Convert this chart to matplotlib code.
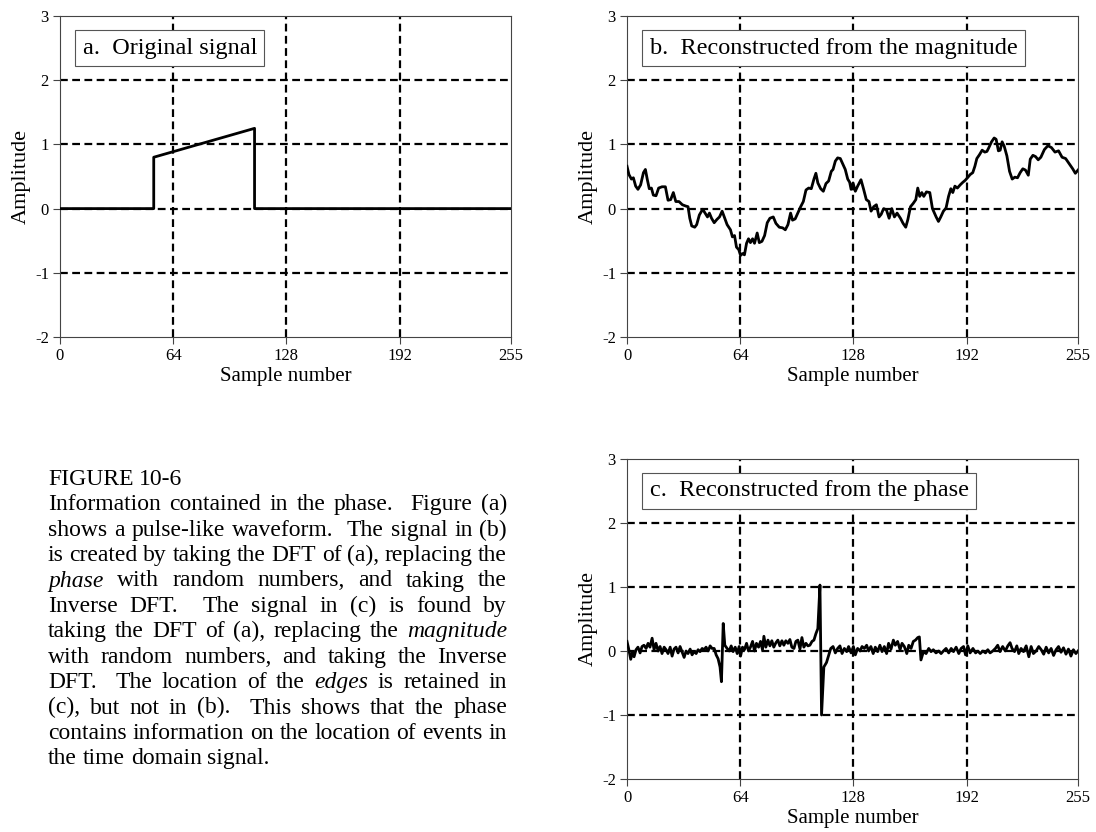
import re
import matplotlib
matplotlib.use("Agg")
import matplotlib.pyplot as plt
from matplotlib.transforms import IdentityTransform

SERIF = ["Liberation Serif", "DejaVu Serif"]
plt.rcParams["font.family"] = SERIF
plt.rcParams["axes.unicode_minus"] = False

W, H = 1096, 832

# ---------- data ----------
x_ticks = [0, 64, 128, 192, 255]
y_ticks = [-2, -1, 0, 1, 2, 3]

# (a) original pulse, breakpoints (sample, amplitude)
pulse_n = [0, 53, 53, 110, 110, 255]
pulse_amp = [0.0, 0.0, 0.80, 1.25, 0.0, 0.0]

# (b) reconstructed from the magnitude
mag_n = [0, 1.1, 2.5, 3.6, 4.9, 6.2, 7.7, 9.3, 10.4, 11.5, 12.6, 13.8, 14.9, 16.4, 17.9,
         19.8, 21.7, 23.2, 24.7, 26.2, 27.6, 29.4, 31.3, 33.2, 34.5, 35.5, 36.6, 38.3, 39.4,
         40.9, 42.8, 43.9, 45.5, 46.6, 47.8, 49.3, 50.8, 52.3, 53.8, 55.3,
         56.6, 58.5, 59.6, 60.8, 61.9, 63.2, 64.2, 65.3, 66.4, 67.6, 68.7, 69.8, 71.0, 72.1,
         73.6, 74.8, 76.3, 77.8, 79.3, 80.8, 82.7, 84.2, 86.1, 88.0, 89.5, 91.0, 92.5, 93.6,
         95.1, 96.6, 98.2, 99.7, 101.2, 102.7, 104.2, 105.7, 106.8, 107.9, 109.5, 111.0,
         112.5, 114.0,
         115.5, 116.5, 117.8, 119.1, 120.6, 122.1, 123.4, 124.8, 125.9, 126.7, 127.8, 129.1,
         130.4, 132.3, 133.8, 135.3, 136.8, 138.0, 139.5, 141.0, 142.5, 143.7, 145.1, 146.7,
         148.2, 149.7, 151.2, 152.7, 154.6, 156.1, 157.6, 158.8, 160.3, 161.8, 163.3, 164.4,
         165.5, 166.7, 167.8, 169.3, 171.2, 172.7,
         174.8, 176.1, 177.4, 178.9, 180.4, 181.8, 183.1, 184.2, 185.4, 186.8, 188.4, 189.9,
         191.2, 192.5, 194.0, 195.5, 196.7, 197.8, 199.3, 200.8, 202.3, 203.5, 204.6, 206.1,
         207.6, 208.7, 210.0, 211.0, 212.1, 213.3, 214.8, 216.3, 217.8, 219.3, 220.8, 222.3,
         223.8, 225.3, 226.9, 228.0, 229.5, 231.0, 232.5,
         234, 236, 238, 240, 242, 244, 246, 248, 250, 252, 253.5, 255]
mag_amp = [0.66, 0.53, 0.46, 0.48, 0.35, 0.30, 0.37, 0.56, 0.61, 0.45, 0.31, 0.32, 0.21, 0.20, 0.32,
           0.34, 0.34, 0.13, 0.14, 0.25, 0.11, 0.11, 0.06, 0.04, 0.03, -0.15, -0.27, -0.29, -0.25,
           -0.10, -0.01, -0.06, -0.13, -0.07, -0.15, -0.22, -0.17, -0.13, -0.04, -0.15,
           -0.25, -0.33, -0.44, -0.42, -0.60, -0.64, -0.73, -0.70, -0.72, -0.54, -0.47, -0.53, -0.47, -0.54,
           -0.38, -0.53, -0.51, -0.42, -0.22, -0.15, -0.13, -0.23, -0.29, -0.30, -0.33, -0.25, -0.07, -0.18,
           -0.16, -0.07, 0.03, 0.11, 0.29, 0.32, 0.31, 0.46, 0.55, 0.40, 0.31, 0.27,
           0.39, 0.43,
           0.58, 0.61, 0.74, 0.79, 0.78, 0.69, 0.61, 0.46, 0.41, 0.30, 0.40, 0.27,
           0.35, 0.45, 0.30, 0.14, 0.11, -0.04, 0.03, 0.06, -0.13, -0.09, 0.00, -0.02,
           -0.15, 0.00, -0.13, -0.07, -0.15, -0.23, -0.29, -0.17, 0.03, 0.08, 0.14, 0.32,
           0.19, 0.25, 0.19, 0.26, 0.25, 0.00,
           -0.13, -0.20, -0.13, -0.04, 0.01, 0.19, 0.31, 0.25, 0.35, 0.32, 0.37, 0.41,
           0.44, 0.48, 0.53, 0.56, 0.66, 0.78, 0.84, 0.91, 0.88, 0.89, 0.95, 1.04,
           1.10, 1.08, 0.90, 0.91, 1.04, 0.97, 0.82, 0.58, 0.46, 0.49, 0.48, 0.56,
           0.62, 0.60, 0.52, 0.77, 0.83, 0.81, 0.76,
           0.80, 0.92, 0.98, 0.95, 0.88, 0.90, 0.80, 0.78, 0.70, 0.62, 0.55, 0.60]

# (c) reconstructed from the phase
phase_n = [0, 0.9, 2.1, 3.2, 4.0, 5.1, 6.2, 7.4, 8.5, 9.6, 10.8, 11.9, 13.0, 14.2, 15.3, 16.4,
           17.6, 18.7, 19.8, 21.0, 22.1, 23.2, 24.4, 25.5, 26.6, 27.7, 28.9, 30.0, 31.1, 32.3,
           33.4, 34.5, 35.7, 36.8, 37.9, 39.1, 40.2, 41.3, 42.5, 43.6, 44.7, 45.9, 47.0, 48.1,
           49.3, 50.4, 51.5, 52.6, 53.4, 54.4, 55.3,
           56.6, 57.8, 58.9, 60.0, 61.2, 62.3, 63.4, 64.2, 65.3, 66.4, 67.6, 68.7, 69.8, 71.0,
           72.1, 73.2, 74.4, 75.5, 76.6, 77.4, 78.5, 79.7, 80.8, 81.9, 83.0, 84.2, 85.3, 86.4,
           87.6, 88.7, 89.8, 91.0, 92.1, 93.2, 94.4, 95.5, 96.6, 97.8, 98.9, 100.0, 101.2, 102.3,
           103.4, 104.6, 105.7, 106.8, 107.9, 109.1, 110.0, 111.3, 112.8, 114.3,
           115.2, 116.5, 117.8, 119.1, 120.4, 121.6, 122.9, 124.2, 125.3, 126.7, 128.0, 129.1,
           130.4, 131.8, 132.9, 134.2, 135.5, 136.6, 137.9, 139.2, 140.4, 141.7, 143.0, 144.2,
           145.5, 146.8, 147.9, 149.3, 150.6, 151.7, 153.0, 154.4, 155.5, 156.8, 158.2, 159.3,
           160.6, 161.9, 163.1, 164.4, 165.3, 166.2, 167.6, 169.1, 170.6, 171.9, 173.2, 174.7,
           176.2, 177.6, 178.9, 180.4, 181.9, 183.3, 184.6, 186.1, 187.6, 188.9, 190.3, 191.4,
           192.7, 194.0, 195.6, 197.1, 198.4, 199.7, 201.2, 202.7, 204.0, 205.3, 206.8, 208.3,
           209.6, 210.9, 212.4, 213.9, 215.3, 216.6, 217.7, 219.1, 220.4, 221.5, 222.8, 224.2,
           225.7, 227.2, 228.5, 229.8, 231.3, 232.8,
           234.2, 235.6, 237.0, 238.4, 239.8, 241.2, 242.6, 244.0, 245.4, 246.8, 248.2, 249.6,
           251.0, 252.4, 253.8, 255.0]
phase_amp = [0.15, 0.04, -0.13, -0.01, -0.09, 0.02, 0.06, -0.03, 0.07, 0.09, 0.04, 0.12, 0.06, 0.20, 0.02, 0.12,
             0.00, 0.07, -0.04, 0.06, 0.02, -0.04, 0.06, -0.08, 0.03, 0.06, -0.03, 0.07, -0.01, -0.10,
             0.00, -0.04, 0.03, -0.06, -0.01, -0.04, 0.02, -0.01, 0.04, 0.02, 0.06, 0.00, 0.08, 0.04,
             0.04, -0.06, -0.12, -0.25, -0.48, 0.43, 0.09,
             0.04, 0.00, 0.08, -0.01, 0.06, -0.04, 0.07, -0.08, 0.06, 0.02, 0.12, 0.00, 0.06, 0.15,
             0.00, 0.12, 0.06, 0.15, 0.02, 0.23, 0.06, 0.17, 0.08, 0.16, 0.06, 0.13, 0.17, 0.08,
             0.16, 0.09, 0.16, 0.12, 0.18, 0.06, 0.04, 0.15, 0.17, 0.03, 0.21, 0.06, 0.12, 0.08,
             0.09, 0.15, 0.17, 0.27, 0.35, 1.03, -1.00, -0.25, -0.18, -0.04,
             0.04, 0.07, -0.03, 0.04, 0.08, -0.04, 0.04, -0.01, 0.07, -0.03, 0.07, -0.06,
             0.04, 0.00, 0.07, 0.04, 0.09, 0.00, 0.07, -0.04, 0.06, -0.01, 0.09, -0.01,
             0.07, -0.04, 0.12, 0.03, 0.17, 0.09, 0.15, 0.02, 0.12, 0.07, -0.04, 0.09,
             0.04, 0.15, 0.17, 0.21, 0.22, -0.14, -0.01, -0.04, 0.04, -0.01, 0.02, -0.03,
             0.00, -0.04, 0.00, 0.04, -0.03, 0.04, -0.01, 0.06, -0.04, 0.04, 0.07, -0.06,
             0.08, -0.03, 0.04, -0.03, 0.00, -0.04, 0.00, -0.03, 0.02, -0.03, 0.00, 0.04,
             0.09, -0.01, 0.07, 0.00, 0.08, 0.13, 0.04, -0.01, 0.08, -0.04, 0.04, -0.01,
             0.08, -0.09, 0.07, -0.04, 0.00, 0.07,
             0.02, -0.05, 0.06, -0.03, 0.04, -0.07, 0.02, 0.07, -0.02, 0.05, -0.05, 0.03,
             -0.08, 0.02, -0.04, 0.00]

caption = [
    "FIGURE 10-6",
    "Information contained in the phase.  Figure (a)",
    "shows a pulse-like waveform.  The signal in (b)",
    "is created by taking the DFT of (a), replacing the",
    "*phase* with random numbers, and taking the",
    "Inverse DFT.  The signal in (c) is found by",
    "taking the DFT of (a), replacing the *magnitude*",
    "with random numbers, and taking the Inverse",
    "DFT.  The location of the *edges* is retained in",
    "(c), but not in (b).  This shows that the phase",
    "contains information on the location of events in",
    "the time domain signal.",
]


def px_axes(fig, left, top, right, bottom):
    return fig.add_axes([left / W, 1 - bottom / H, (right - left) / W, (bottom - top) / H])


def style_axes(ax, label):
    ax.set_xlim(0, 255)
    ax.set_ylim(-2, 3)
    ax.set_xticks(x_ticks)
    ax.set_yticks(y_ticks)
    for v in x_ticks[1:-1]:
        ax.axvline(v, color="black", lw=1.6, dashes=(3.5, 2), zorder=1)
    for v in y_ticks[1:-1]:
        ax.axhline(v, color="black", lw=1.6, dashes=(3.5, 2), zorder=1)
    ax.tick_params(direction="out", length=5, width=0.8, color="#444",
                   labelsize=12, pad=3)
    for sp in ax.spines.values():
        sp.set_color("#444")
        sp.set_linewidth(0.8)
    ax.set_ylabel("Amplitude", fontsize=16, labelpad=3)
    ax.set_xlabel("Sample number", fontsize=15, labelpad=2)
    ax.text(0.05, 0.90, label, transform=ax.transAxes, fontsize=17.5,
            ha="left", va="center", zorder=5,
            bbox=dict(boxstyle="square,pad=0.3", fc="white", ec="#555", lw=0.8))


def draw_line(fig, text, x0, x1, y, size, justify):
    r = fig.canvas.get_renderer()
    parts = re.split(r"( +)", text)
    words = parts[0::2]
    gaps = [len(g) for g in parts[1::2]]
    objs, widths = [], []
    for w in words:
        italic = w.startswith("*") and w.endswith("*")
        t = fig.text(0, y, w.strip("*"), fontsize=size, transform=IdentityTransform(),
                     fontstyle="italic" if italic else "normal", ha="left", va="baseline")
        objs.append(t)
        widths.append(t.get_window_extent(r).width)
    if justify:
        unit = (x1 - x0 - sum(widths)) / sum(gaps)
    else:
        a = fig.text(0, 0, "a a", fontsize=size)
        b = fig.text(0, 0, "aa", fontsize=size)
        unit = a.get_window_extent(r).width - b.get_window_extent(r).width
        a.remove()
        b.remove()
    x = x0
    for i, t in enumerate(objs):
        t.set_x(x)
        x += widths[i]
        if i < len(gaps):
            x += unit * gaps[i]


fig = plt.figure(figsize=(W / 100, H / 100), dpi=100)

ax_a = px_axes(fig, 60, 16, 511, 337)
ax_a.plot(pulse_n, pulse_amp, color="black", lw=2.0, zorder=3)
style_axes(ax_a, "a.  Original signal")

ax_b = px_axes(fig, 627, 16, 1078, 337)
ax_b.plot(mag_n, mag_amp, color="black", lw=2.0, zorder=3)
style_axes(ax_b, "b.  Reconstructed from the magnitude")

ax_c = px_axes(fig, 627, 459, 1078, 779)
ax_c.plot(phase_n, phase_amp, color="black", lw=2.0, zorder=3)
style_axes(ax_c, "c.  Reconstructed from the phase")

fig.canvas.draw()
for k, line in enumerate(caption):
    base = 586.5 + (k - 4) * 25.4
    full = 0 < k < len(caption) - 1
    draw_line(fig, line, 48, 507, H - base, 17, full)

fig.savefig("out.png", dpi=100)
